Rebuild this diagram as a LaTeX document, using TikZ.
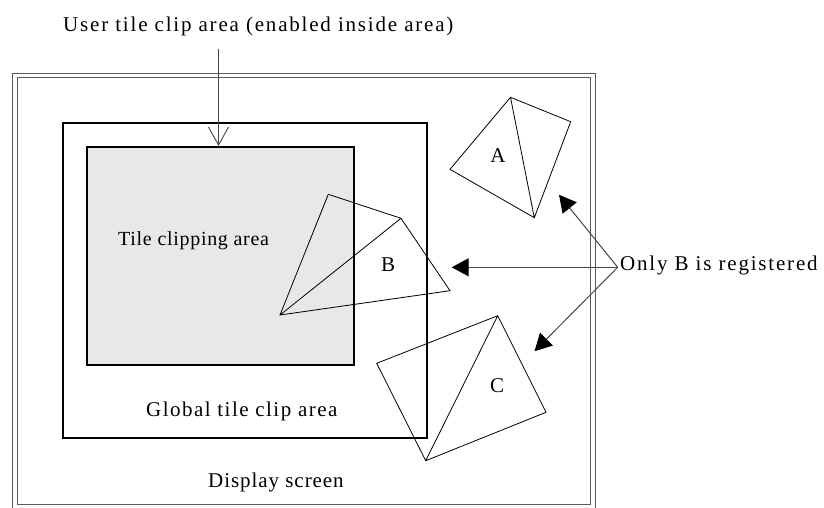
\documentclass[tikz,border=0pt]{standalone}
\usepackage{fontspec}
\setmainfont{Liberation Serif}[LetterSpace=8.6]
\newfontfamily\tightserif{Liberation Serif}[LetterSpace=3.5]
\newfontfamily\midserif{Liberation Serif}[LetterSpace=7]
\newfontfamily\dispserif{Liberation Serif}[LetterSpace=4.5]
\usetikzlibrary{arrows.meta}
\definecolor{tilegray}{RGB}{232,232,232}
\definecolor{scrgray}{RGB}{90,90,90}
\definecolor{arrgray}{RGB}{70,70,70}
\begin{document}
\begin{tikzpicture}[x=1pt,y=-1pt,
  lbl/.style={font=\fontsize{21}{25}\selectfont, inner sep=0pt},
  letter/.style={font=\fontsize{21}{25}\selectfont, inner sep=0pt},
  scr/.style={draw=scrgray, line width=0.9pt},
  cliprect/.style={draw=black, line width=1.5pt, inner sep=0pt, anchor=north west},
  tri/.style={draw=black, line width=0.8pt, line join=miter},
  ptr/.style={draw=arrgray, line width=1pt, -{Triangle[length=17pt,width=18pt,color=black]}},
  openptr/.style={draw=arrgray, line width=0.9pt, -{Straight Barb[length=18pt,width=20pt]}}]
\useasboundingbox (0,0) rectangle (824,507);
\fill[white] (0,0) rectangle (824,507);

% display screen (double border)
\draw[scr] (12.7,73.3) rectangle (595,508.7);
\draw[scr] (17.3,77.7) rectangle (590.7,504.3);

% global tile clip area and tile clipping area
\node[cliprect, minimum width=364pt, minimum height=315pt] (global) at (62,122) {};
\node[cliprect, fill=tilegray, minimum width=267pt, minimum height=218pt] (tile) at (86,146) {};

% polygon A
\coordinate (a1) at (510.5,97.3);
\coordinate (a2) at (570.7,121.7);
\coordinate (a3) at (534.3,217.7);
\coordinate (a4) at (450,169.3);
\draw[tri] (a1) -- (a2) -- (a3) -- (a4) -- cycle (a1) -- (a3);
% polygon B
\coordinate (b1) at (328.3,194.3);
\coordinate (b2) at (401,218.3);
\coordinate (b3) at (450,290.7);
\coordinate (b4) at (280,315);
\draw[tri] (b1) -- (b2) -- (b3) -- (b4) -- cycle (b4) -- (b2);
% polygon C
\coordinate (c1) at (497.7,315.7);
\coordinate (c2) at (546,412.3);
\coordinate (c3) at (425.7,460.7);
\coordinate (c4) at (376.7,363.3);
\draw[tri] (c1) -- (c2) -- (c3) -- (c4) -- cycle (c3) -- (c1);

\node[letter] (la) at (498,156) {A};
\node[letter] (lb) at (388,264.3) {B};
\node[letter] (lc) at (497,385.7) {C};

% texts
\node[lbl, anchor=base west] (usr) at (63,31.7) {User tile clip area (enabled inside area)};
\node[lbl, anchor=base west, font=\fontsize{20}{24}\selectfont\tightserif] (tilelbl) at (118,245.7) {Tile clipping area};
\node[lbl, anchor=base west, font=\fontsize{21}{25}\selectfont\midserif] (glbl) at (146,416.7) {Global tile clip area};
\node[lbl, anchor=base west, font=\fontsize{21}{25}\selectfont\dispserif] (dlbl) at (208,487.5) {Display screen};
\node[lbl, anchor=base west] (only) at (620,270.7) {Only B is registered};

% arrows
\coordinate (ustart) at (218.5,49.3);
\draw[openptr] (ustart) -- (ustart |- tile.north);
\coordinate (ob) at (617.7,267.3);
\coordinate (tA) at (559,194.8);
\coordinate (tB) at (451.7,267.3);
\coordinate (tC) at (534.5,351.2);
\draw[ptr] (ob) -- (tB);
\draw[ptr] (ob) -- (tA);
\draw[ptr] (ob) -- (tC);
\end{tikzpicture}
\end{document}
